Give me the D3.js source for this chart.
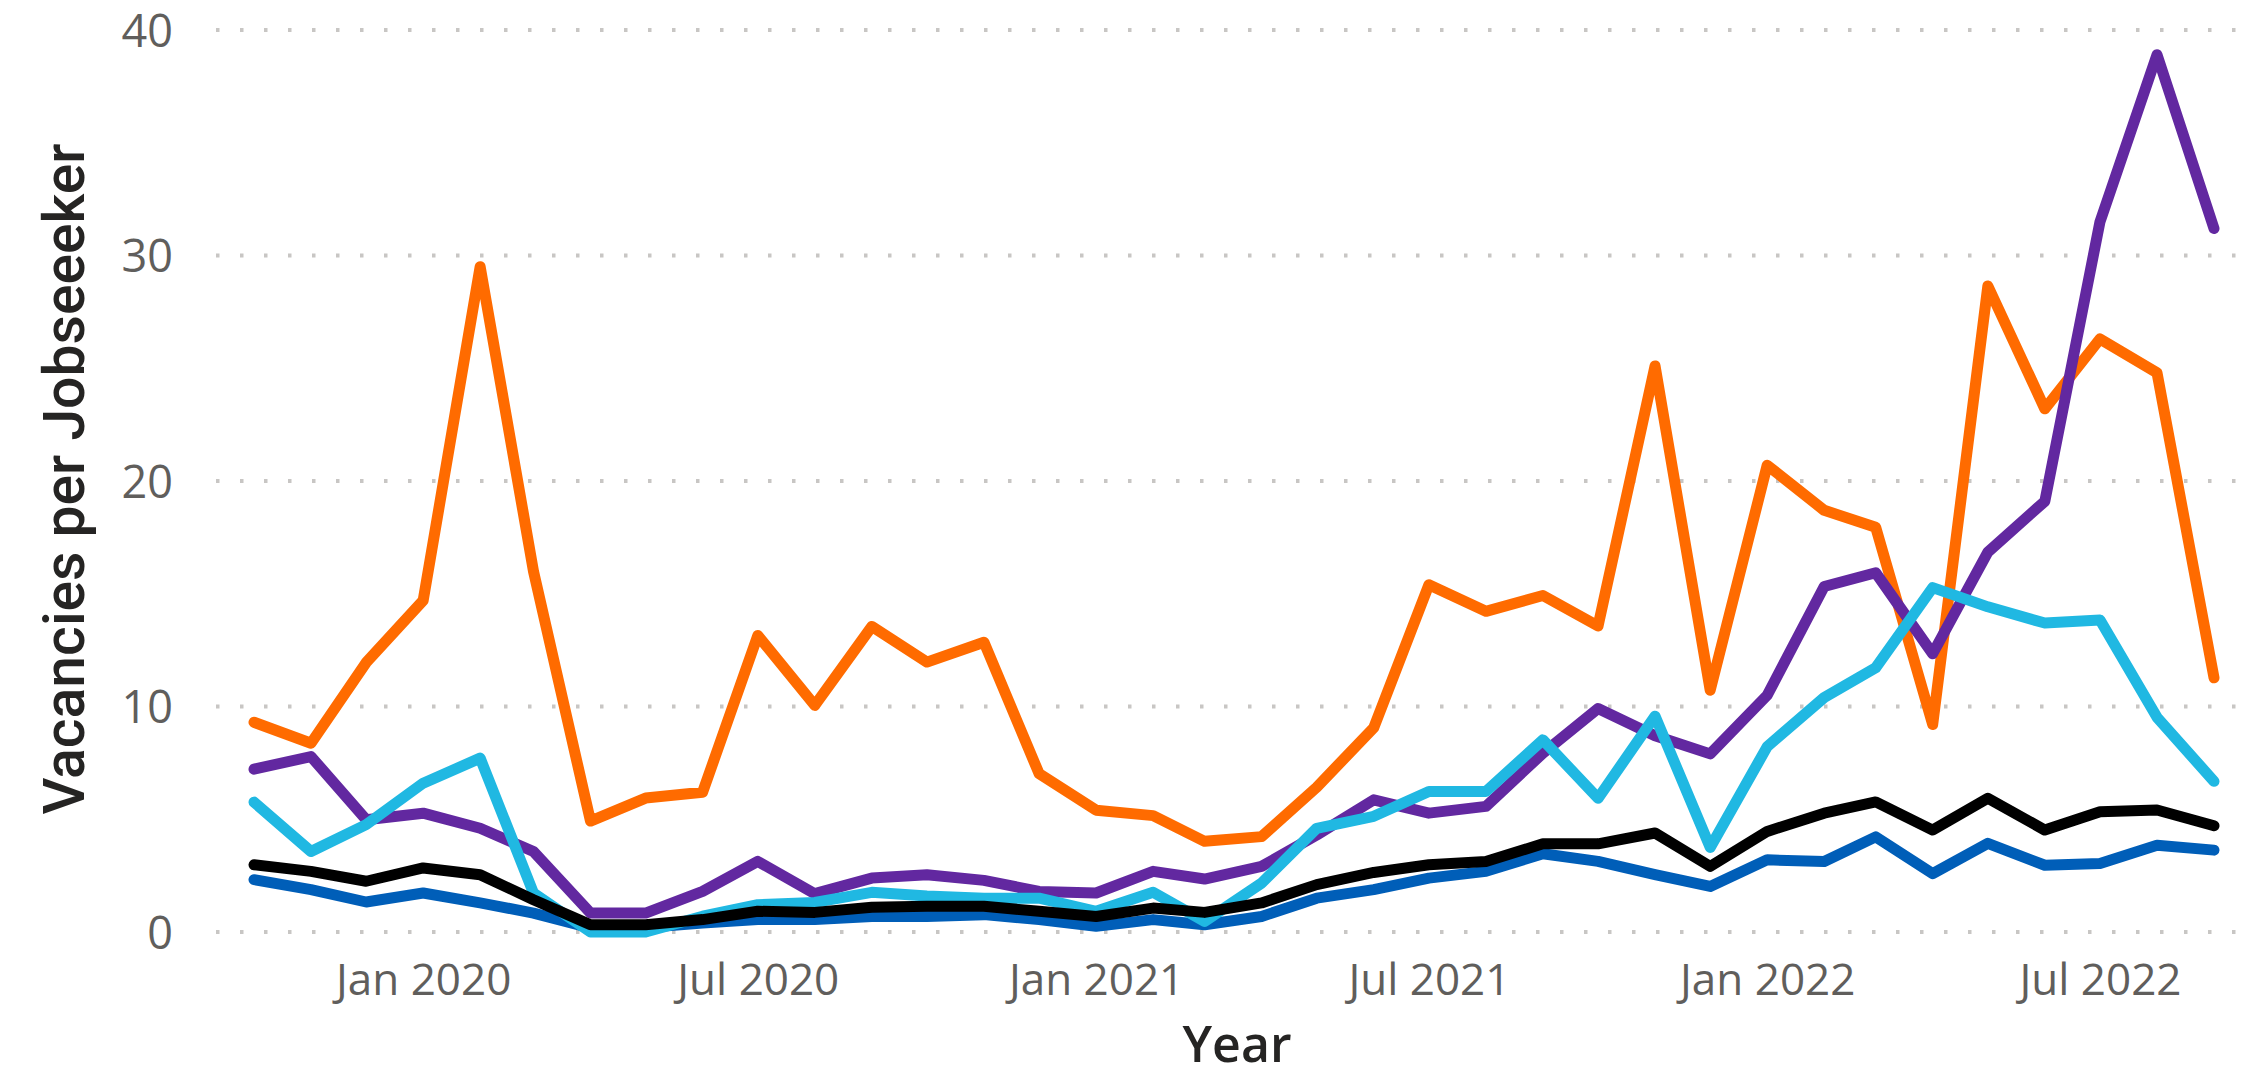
<!DOCTYPE html>
<html>
<head>
<meta charset="utf-8">
<script src="https://cdn.jsdelivr.net/npm/d3@7"></script>
<style>
  html, body { margin: 0; padding: 0; background: #ffffff; }
  svg { display: block; }
</style>
</head>
<body>
<svg id="chart" width="2254" height="1081"></svg>
<script>
// ---------------- DATA ----------------
const months = [
  "2019-10","2019-11","2019-12",
  "2020-01","2020-02","2020-03","2020-04","2020-05","2020-06","2020-07","2020-08","2020-09","2020-10","2020-11","2020-12",
  "2021-01","2021-02","2021-03","2021-04","2021-05","2021-06","2021-07","2021-08","2021-09","2021-10","2021-11","2021-12",
  "2022-01","2022-02","2022-03","2022-04","2022-05","2022-06","2022-07","2022-08","2022-09"
];

const seriesOrange = [9.3, 8.37, 11.95, 14.7, 29.5, 16.0, 4.92, 5.94, 6.2, 13.15, 10.05, 13.55, 11.97, 12.85, 7.02,
  5.4, 5.16, 4.02, 4.23, 6.42, 9.06, 15.4, 14.22, 14.92, 13.57, 25.1, 10.72, 20.7, 18.7, 17.95, 9.2, 28.65, 23.2, 26.3, 24.8, 11.27];

const seriesPurple = [7.22, 7.78, 4.98, 5.27, 4.6, 3.57, 0.84, 0.84, 1.8, 3.13, 1.7, 2.39, 2.54, 2.29, 1.8,
  1.73, 2.69, 2.35, 2.91, 4.3, 5.86, 5.27, 5.57, 7.93, 9.91, 8.7, 7.9, 10.5, 15.32, 15.93, 12.34, 16.85, 19.1, 31.5, 38.9, 31.2];

const seriesCyan = [5.76, 3.57, 4.76, 6.6, 7.71, 1.73, 0.0, 0.0, 0.7, 1.21, 1.31, 1.76, 1.6, 1.5, 1.5,
  0.92, 1.76, 0.47, 2.17, 4.6, 5.13, 6.23, 6.23, 8.52, 5.93, 9.57, 3.75, 8.22, 10.4, 11.72, 15.27, 14.42, 13.7, 13.84, 9.52, 6.68];

const seriesBlack = [2.98, 2.69, 2.25, 2.84, 2.54, 1.43, 0.32, 0.32, 0.55, 0.92, 0.87, 1.1, 1.14, 1.14, 0.92,
  0.69, 1.06, 0.87, 1.29, 2.1, 2.64, 2.98, 3.13, 3.91, 3.91, 4.39, 2.91, 4.46, 5.27, 5.77, 4.52, 5.93, 4.52, 5.33, 5.41, 4.71];

const seriesBlue = [2.32, 1.88, 1.33, 1.73, 1.29, 0.84, 0.18, 0.2, 0.4, 0.55, 0.55, 0.69, 0.69, 0.77, 0.55,
  0.25, 0.55, 0.32, 0.69, 1.5, 1.88, 2.39, 2.69, 3.47, 3.13, 2.54, 2.02, 3.2, 3.13, 4.22, 2.59, 3.93, 2.96, 3.04, 3.85, 3.63];

const yTicks = [0, 10, 20, 30, 40];
const xTickLabels = ["2020-01", "2020-07", "2021-01", "2021-07", "2022-01", "2022-07"];
const yTitle = "Vacancies per Jobseeeker";
const xTitle = "Year";

// drawn in this order (last on top)
const series = [
  { name: "Series A", values: seriesOrange, color: "#FF6B00" },
  { name: "Series B", values: seriesPurple, color: "#6228A0" },
  { name: "Series C", values: seriesBlue,   color: "#005EB8" },
  { name: "Series D", values: seriesCyan,   color: "#20B8E2" },
  { name: "Series E", values: seriesBlack,  color: "#000000" }
];

// ---------------- LAYOUT ----------------
const parse = d3.timeParse("%Y-%m");
const dates = months.map(parse);

const svg = d3.select("#chart");
const gridLeft = 216, gridRight = 2236;

const x = d3.scaleTime()
  .domain([dates[0], dates[dates.length - 1]])
  .range([254, 2214]);

const y = d3.scaleLinear()
  .domain([0, 40])
  .range([932, 30]);

// gridlines
svg.append("g").selectAll("line")
  .data(yTicks)
  .join("line")
  .attr("x1", gridLeft)
  .attr("x2", gridRight)
  .attr("y1", d => y(d))
  .attr("y2", d => y(d))
  .attr("stroke", "#C8C6C4")
  .attr("stroke-width", 4)
  .attr("stroke-dasharray", "3.5,20.5");

// y axis labels
const yAxis = d3.axisLeft(y).tickValues(yTicks).tickSize(0).tickPadding(0).tickFormat(d3.format("d"));
const gy = svg.append("g").attr("transform", "translate(173,0)").call(yAxis);
gy.select(".domain").remove();
gy.selectAll("text")
  .attr("font-family", "'Open Sans', 'Segoe UI', sans-serif")
  .attr("font-size", 45)
  .attr("fill", "#605E5C")
  .attr("dy", "0.36em");

// x axis labels
const xAxis = d3.axisBottom(x).tickValues(xTickLabels.map(parse)).tickSize(0).tickPadding(0)
  .tickFormat(d3.timeFormat("%b %Y"));
const gx = svg.append("g").attr("transform", "translate(0,995)").call(xAxis);
gx.select(".domain").remove();
gx.selectAll("text")
  .attr("font-family", "'Open Sans', 'Segoe UI', sans-serif")
  .attr("font-size", 44)
  .attr("fill", "#605E5C")
  .attr("dy", 0);

// lines
const line = d3.line()
  .x((d, i) => x(dates[i]))
  .y(d => y(d));

svg.append("g").selectAll("path")
  .data(series)
  .join("path")
  .attr("d", s => line(s.values))
  .attr("fill", "none")
  .attr("stroke", s => s.color)
  .attr("stroke-width", 11)
  .attr("stroke-linejoin", "round")
  .attr("stroke-linecap", "round");

// axis titles
svg.append("text")
  .attr("x", 1237)
  .attr("y", 1062)
  .attr("text-anchor", "middle")
  .attr("font-family", "'Open Sans', 'Segoe UI', sans-serif")
  .attr("font-weight", 600)
  .attr("font-size", 50)
  .attr("fill", "#252423")
  .text(xTitle);

const yt = svg.append("text")
  .attr("transform", "translate(84,479) rotate(-90)")
  .attr("text-anchor", "middle")
  .attr("font-family", "Roboto, 'Noto Sans', sans-serif")
  .attr("font-weight", 500)
  .attr("font-size", 50)
  .attr("fill", "#252423")
  .text(yTitle);
const len = yt.node().getComputedTextLength();
yt.attr("font-size", 50 * 671 / len);
</script>
</body>
</html>
